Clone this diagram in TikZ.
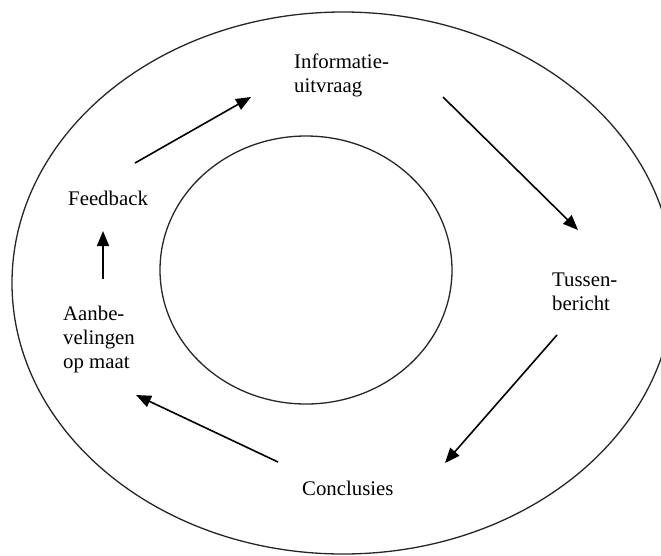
\documentclass[tikz,border=0pt]{standalone}
\usepackage{fontspec}
\setmainfont{Liberation Serif}
\usetikzlibrary{arrows.meta}
\begin{document}
\begin{tikzpicture}[x=1pt,y=-1pt,
  ring/.style={draw=black!85,line width=1.3pt},
  label/.style={anchor=north west,inner sep=0pt,align=left,
    font=\fontsize{20.8}{24}\selectfont},
  flow/.style={line width=1.6pt,-{Triangle[length=15pt,width=12pt]}}]
  \useasboundingbox (0,0) rectangle (661,555);
  % rings
  \draw[ring] (343,283) ellipse [x radius=331,y radius=271];
  \draw[ring] (306,270) ellipse [x radius=146,y radius=134];
  % stages of the cycle
  \node[label] (info) at (294,54) {Informatie-\\uitvraag};
  \node[label] (tussen) at (552,273) {Tussen-\\bericht};
  \node[label] (concl) at (302,481) {Conclusies};
  \node[label] (aanbe) at (63,306) {Aanbe-\\velingen\\op maat};
  \node[label] (feed) at (68,191) {Feedback};
  % arrow ends
  \coordinate (a1s) at (135,163); \coordinate (a1e) at (251,97);
  \coordinate (a2s) at (443,97);  \coordinate (a2e) at (578,230);
  \coordinate (a3s) at (557,335); \coordinate (a3e) at (445,463);
  \coordinate (a4s) at (278,462); \coordinate (a4e) at (136,395);
  \coordinate (a5s) at (103,279); \coordinate (a5e) at (103,231);
  \draw[flow] (a1s) -- (a1e);
  \draw[flow] (a2s) -- (a2e);
  \draw[flow] (a3s) -- (a3e);
  \draw[flow] (a4s) -- (a4e);
  \draw[flow] (a5s) -- (a5e);
\end{tikzpicture}
\end{document}
